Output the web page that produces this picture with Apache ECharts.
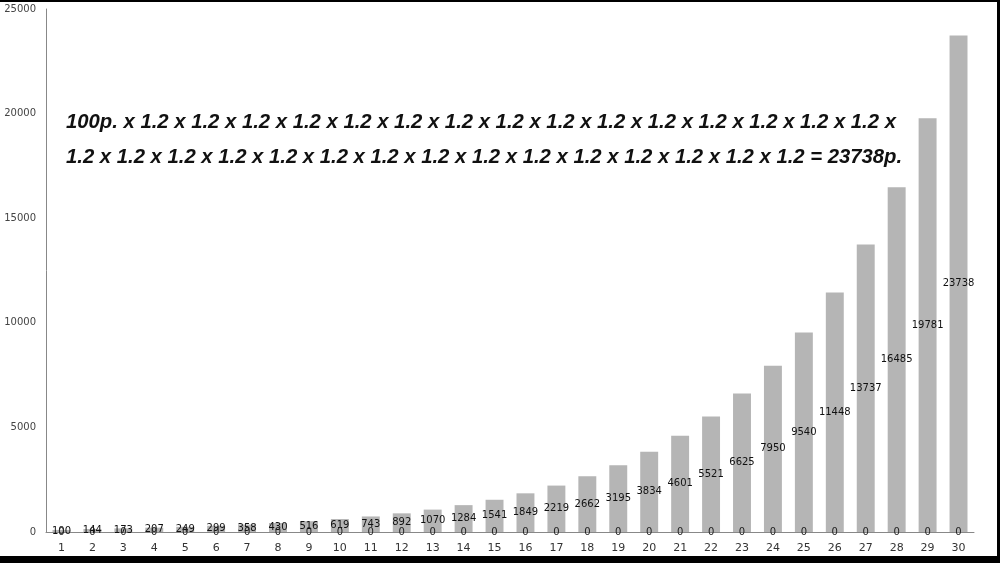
<!DOCTYPE html>
<html><head><meta charset="utf-8">
<script src="https://cdn.jsdelivr.net/npm/echarts@6/dist/echarts.min.js"></script>
<style>html,body{margin:0;padding:0;background:#fff}#c{width:1000px;height:563px}</style>
</head><body><div id="c"></div>
<script>
const categories = ['1','2','3','4','5','6','7','8','9','10','11','12','13','14','15','16','17','18','19','20','21','22','23','24','25','26','27','28','29','30'];
const values = [100,144,173,207,249,299,358,430,516,619,743,892,1070,1284,1541,1849,2219,2662,3195,3834,4601,5521,6625,7950,9540,11448,13737,16485,19781,23738];
const zeros = [0,0,0,0,0,0,0,0,0,0,0,0,0,0,0,0,0,0,0,0,0,0,0,0,0,0,0,0,0,0];
const line1 = '100p.' + ' x 1.2'.repeat(15) + ' x';
const line2 = '1.2' + ' x 1.2'.repeat(14) + ' = 23738p.';

const chart = echarts.init(document.getElementById('c'));
const txtFont = {fontFamily:'Liberation Sans, Arial, sans-serif', fontSize:20.3, fontWeight:'bold', fontStyle:'italic'};
chart.setOption({
  animation:false,
  backgroundColor:'#fff',
  grid:{left:46,right:26,top:9,bottom:31},
  xAxis:{type:'category',data:categories,
    axisLine:{lineStyle:{color:'#888',width:1}},
    axisTick:{show:false},
    axisLabel:{color:'#333',fontSize:11,fontFamily:'DejaVu Sans, sans-serif',margin:11}},
  yAxis:{type:'value',min:0,max:25000,interval:5000,
    axisLine:{show:true,lineStyle:{color:'#888',width:1}},
    axisTick:{show:false},
    splitLine:{show:false},
    axisLabel:{color:'#444',fontSize:10,fontFamily:'DejaVu Sans, sans-serif',margin:10,formatter:function(v){return String(v);}}},
  series:[
    {type:'bar',data:values,barWidth:'58%',itemStyle:{color:'#b5b5b5'},
     label:{show:true,position:'inside',color:'#111',fontSize:10,fontFamily:'DejaVu Sans, sans-serif'}},
    {type:'bar',data:zeros,barWidth:'58%',barGap:'-100%',itemStyle:{color:'#b5b5b5'},
     label:{show:true,position:'inside',color:'#222',fontSize:10,fontFamily:'DejaVu Sans, sans-serif'}}
  ],
  graphic:[
    {type:'text',left:66,top:112,style:Object.assign({text:line1,fill:'#111'},txtFont)},
    {type:'text',left:66,top:147,style:Object.assign({text:line2,fill:'#111'},txtFont)},
    {type:'rect',shape:{x:0,y:0,width:1000,height:2},style:{fill:'#000'}},
    {type:'rect',shape:{x:997,y:0,width:3,height:563},style:{fill:'#000'}},
    {type:'rect',shape:{x:0,y:556,width:1000,height:7},style:{fill:'#000'}}
  ]
});
</script></body></html>
